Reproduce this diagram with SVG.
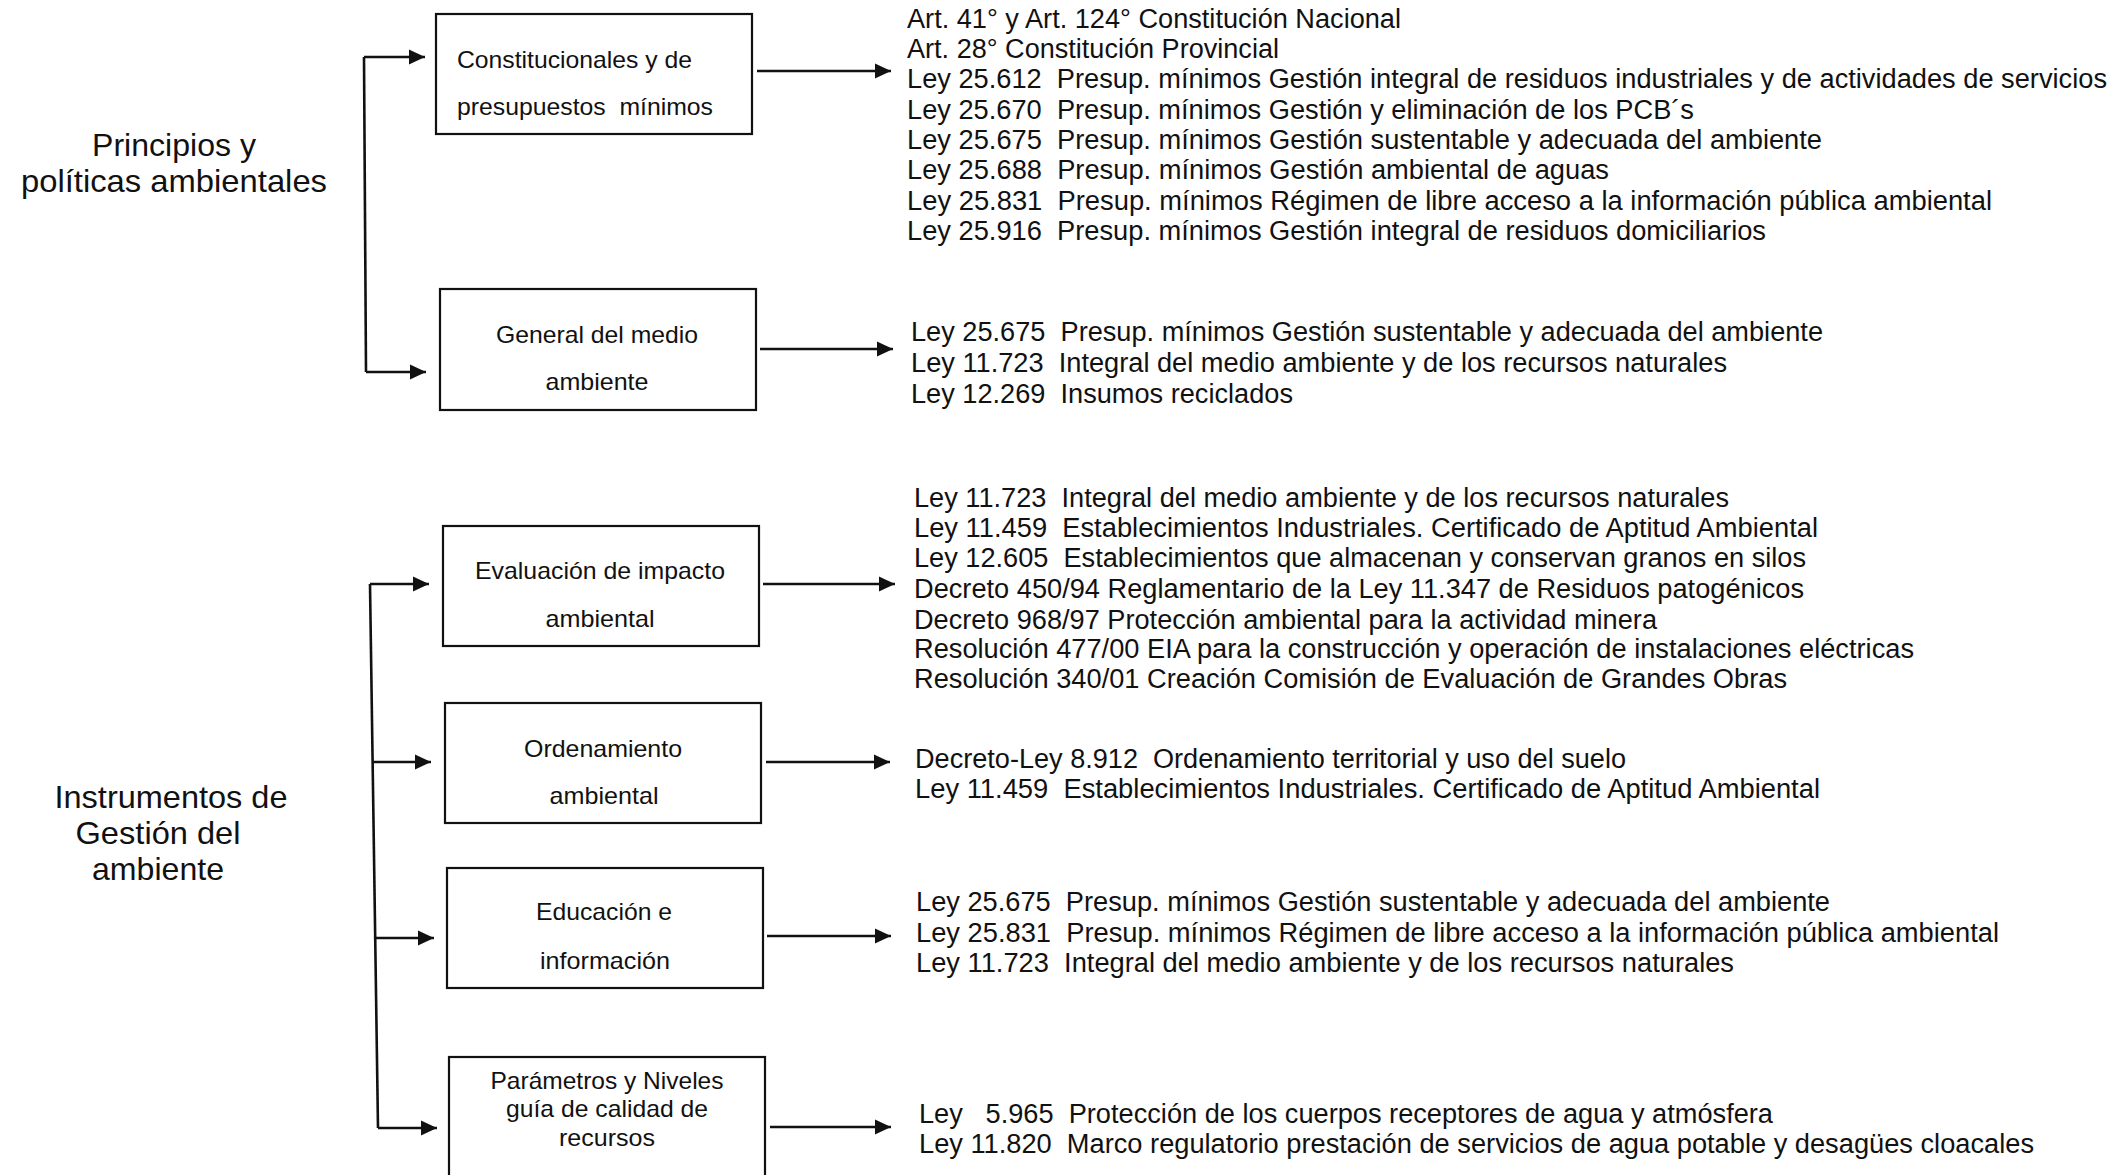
<svg xmlns="http://www.w3.org/2000/svg" width="2116" height="1175" viewBox="0 0 2116 1175">
<defs>
<marker id="ah" markerUnits="userSpaceOnUse" markerWidth="17" markerHeight="17" refX="16" refY="8.5" orient="auto"><path d="M0,1 L16,8.5 L0,16 z" fill="#111"/></marker>
<style>
text{white-space:pre}
.bx{fill:#fff;stroke:#111;stroke-width:2.2}
.cn{fill:none;stroke:#111;stroke-width:2.6}
.ar{fill:none;stroke:#111;stroke-width:2.6;marker-end:url(#ah)}
.big{font-family:"Liberation Sans",Arial,sans-serif;font-size:32px;fill:#111;text-anchor:middle}
.bt{font-family:"Liberation Sans",Arial,sans-serif;font-size:24px;fill:#111;text-anchor:middle}
.bl{font-family:"Liberation Sans",Arial,sans-serif;font-size:24px;fill:#111}
.rt{font-family:"Liberation Sans",Arial,sans-serif;font-size:27px;fill:#111}
</style>
</defs>
<rect width="2116" height="1175" fill="#fff"/>
<g id="label-principios">
<text class="big" x="174" y="156" textLength="164" lengthAdjust="spacingAndGlyphs">Principios y</text>
<text class="big" x="174" y="192" textLength="306" lengthAdjust="spacingAndGlyphs">políticas ambientales</text>
</g>
<g id="label-instrumentos">
<text class="big" x="171" y="808" textLength="233" lengthAdjust="spacingAndGlyphs">Instrumentos de</text>
<text class="big" x="158" y="844" textLength="165" lengthAdjust="spacingAndGlyphs">Gestión del</text>
<text class="big" x="158" y="880" textLength="132" lengthAdjust="spacingAndGlyphs">ambiente</text>
</g>
<g id="connectors">
<path class="cn" d="M364,57 L366,372"/>
<path class="ar" d="M364,57 L425,57"/>
<path class="ar" d="M366,372 L426,372"/>
<path class="cn" d="M370,584 L378,1128"/>
<path class="ar" d="M370,584 L429,584"/>
<path class="ar" d="M373,762 L431,762"/>
<path class="ar" d="M375,938 L434,938"/>
<path class="ar" d="M378,1128 L437,1128"/>
<path class="ar" d="M757,71 L891,71"/>
<path class="ar" d="M760,349 L893,349"/>
<path class="ar" d="M763,584 L895,584"/>
<path class="ar" d="M766,762 L890,762"/>
<path class="ar" d="M767,936 L891,936"/>
<path class="ar" d="M770,1127 L891,1127"/>
</g>
<g id="node-constitucionales">
<rect class="bx" x="436" y="14" width="316" height="120"/>
<text class="bl" x="457" y="68" textLength="235" lengthAdjust="spacingAndGlyphs">Constitucionales y de</text>
<text class="bl" x="457" y="115" textLength="256" lengthAdjust="spacingAndGlyphs">presupuestos &#160;mínimos</text>
</g>
<g id="node-general">
<rect class="bx" x="440" y="289" width="316" height="121"/>
<text class="bt" x="597" y="343" textLength="202" lengthAdjust="spacingAndGlyphs">General del medio</text>
<text class="bt" x="597" y="390" textLength="103" lengthAdjust="spacingAndGlyphs">ambiente</text>
</g>
<g id="node-evaluacion">
<rect class="bx" x="443" y="526" width="316" height="120"/>
<text class="bt" x="600" y="579" textLength="250" lengthAdjust="spacingAndGlyphs">Evaluación de impacto</text>
<text class="bt" x="600" y="627" textLength="109" lengthAdjust="spacingAndGlyphs">ambiental</text>
</g>
<g id="node-ordenamiento">
<rect class="bx" x="445" y="703" width="316" height="120"/>
<text class="bt" x="603" y="757" textLength="158" lengthAdjust="spacingAndGlyphs">Ordenamiento</text>
<text class="bt" x="604" y="804" textLength="109" lengthAdjust="spacingAndGlyphs">ambiental</text>
</g>
<g id="node-educacion">
<rect class="bx" x="447" y="868" width="316" height="120"/>
<text class="bt" x="604" y="920" textLength="136" lengthAdjust="spacingAndGlyphs">Educación e</text>
<text class="bt" x="605" y="969" textLength="130" lengthAdjust="spacingAndGlyphs">información</text>
</g>
<g id="node-parametros">
<rect class="bx" x="449" y="1057" width="316" height="140"/>
<text class="bt" x="607" y="1089" textLength="233" lengthAdjust="spacingAndGlyphs">Parámetros y Niveles</text>
<text class="bt" x="607" y="1117" textLength="202" lengthAdjust="spacingAndGlyphs">guía de calidad de</text>
<text class="bt" x="607" y="1146" textLength="96" lengthAdjust="spacingAndGlyphs">recursos</text>
</g>
<g id="list-constitucionales">
<text class="rt" x="907" y="28" textLength="494" lengthAdjust="spacingAndGlyphs">Art. 41° y Art. 124° Constitución Nacional</text>
<text class="rt" x="907" y="58" textLength="372" lengthAdjust="spacingAndGlyphs">Art. 28° Constitución Provincial</text>
<text class="rt" x="907" y="88" textLength="1200" lengthAdjust="spacingAndGlyphs">Ley 25.612 &#160;Presup. mínimos Gestión integral de residuos industriales y de actividades de servicios</text>
<text class="rt" x="907" y="119" textLength="787" lengthAdjust="spacingAndGlyphs">Ley 25.670 &#160;Presup. mínimos Gestión y eliminación de los PCB´s</text>
<text class="rt" x="907" y="149" textLength="915" lengthAdjust="spacingAndGlyphs">Ley 25.675 &#160;Presup. mínimos Gestión sustentable y adecuada del ambiente</text>
<text class="rt" x="907" y="179" textLength="702" lengthAdjust="spacingAndGlyphs">Ley 25.688 &#160;Presup. mínimos Gestión ambiental de aguas</text>
<text class="rt" x="907" y="210" textLength="1085" lengthAdjust="spacingAndGlyphs">Ley 25.831 &#160;Presup. mínimos Régimen de libre acceso a la información pública ambiental</text>
<text class="rt" x="907" y="240" textLength="859" lengthAdjust="spacingAndGlyphs">Ley 25.916 &#160;Presup. mínimos Gestión integral de residuos domiciliarios</text>
</g>
<g id="list-general">
<text class="rt" x="911" y="341" textLength="912" lengthAdjust="spacingAndGlyphs">Ley 25.675 &#160;Presup. mínimos Gestión sustentable y adecuada del ambiente</text>
<text class="rt" x="911" y="372" textLength="816" lengthAdjust="spacingAndGlyphs">Ley 11.723 &#160;Integral del medio ambiente y de los recursos naturales</text>
<text class="rt" x="911" y="403" textLength="382" lengthAdjust="spacingAndGlyphs">Ley 12.269 &#160;Insumos reciclados</text>
</g>
<g id="list-evaluacion">
<text class="rt" x="914" y="507" textLength="815" lengthAdjust="spacingAndGlyphs">Ley 11.723 &#160;Integral del medio ambiente y de los recursos naturales</text>
<text class="rt" x="914" y="537" textLength="904" lengthAdjust="spacingAndGlyphs">Ley 11.459 &#160;Establecimientos Industriales. Certificado de Aptitud Ambiental</text>
<text class="rt" x="914" y="567" textLength="892" lengthAdjust="spacingAndGlyphs">Ley 12.605 &#160;Establecimientos que almacenan y conservan granos en silos</text>
<text class="rt" x="914" y="598" textLength="890" lengthAdjust="spacingAndGlyphs">Decreto 450/94 Reglamentario de la Ley 11.347 de Residuos patogénicos</text>
<text class="rt" x="914" y="629" textLength="743" lengthAdjust="spacingAndGlyphs">Decreto 968/97 Protección ambiental para la actividad minera</text>
<text class="rt" x="914" y="658" textLength="1000" lengthAdjust="spacingAndGlyphs">Resolución 477/00 EIA para la construcción y operación de instalaciones eléctricas</text>
<text class="rt" x="914" y="688" textLength="873" lengthAdjust="spacingAndGlyphs">Resolución 340/01 Creación Comisión de Evaluación de Grandes Obras</text>
</g>
<g id="list-ordenamiento">
<text class="rt" x="915" y="768" textLength="711" lengthAdjust="spacingAndGlyphs">Decreto-Ley 8.912 &#160;Ordenamiento territorial y uso del suelo</text>
<text class="rt" x="915" y="798" textLength="905" lengthAdjust="spacingAndGlyphs">Ley 11.459 &#160;Establecimientos Industriales. Certificado de Aptitud Ambiental</text>
</g>
<g id="list-educacion">
<text class="rt" x="916" y="911" textLength="914" lengthAdjust="spacingAndGlyphs">Ley 25.675 &#160;Presup. mínimos Gestión sustentable y adecuada del ambiente</text>
<text class="rt" x="916" y="942" textLength="1083" lengthAdjust="spacingAndGlyphs">Ley 25.831 &#160;Presup. mínimos Régimen de libre acceso a la información pública ambiental</text>
<text class="rt" x="916" y="972" textLength="818" lengthAdjust="spacingAndGlyphs">Ley 11.723 &#160;Integral del medio ambiente y de los recursos naturales</text>
</g>
<g id="list-parametros">
<text class="rt" x="919" y="1123" textLength="854" lengthAdjust="spacingAndGlyphs">Ley &#160; 5.965 &#160;Protección de los cuerpos receptores de agua y atmósfera</text>
<text class="rt" x="919" y="1153" textLength="1115" lengthAdjust="spacingAndGlyphs">Ley 11.820 &#160;Marco regulatorio prestación de servicios de agua potable y desagües cloacales</text>
</g>
</svg>
